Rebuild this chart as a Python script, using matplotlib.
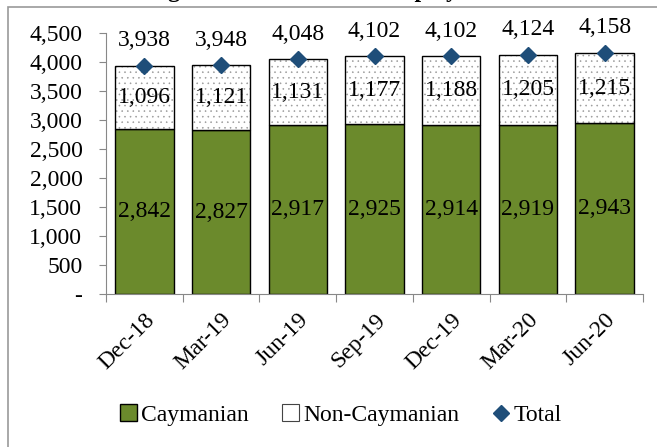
import numpy as np
import matplotlib
matplotlib.use("Agg")
import matplotlib.pyplot as plt
from matplotlib.patches import Rectangle, Patch
from matplotlib.ticker import FuncFormatter

periods = ["Dec-18", "Mar-19", "Jun-19", "Sep-19", "Dec-19", "Mar-20", "Jun-20"]
caymanian = [2842, 2827, 2917, 2925, 2914, 2919, 2943]
non_caymanian = [1096, 1121, 1131, 1177, 1188, 1205, 1215]
total = [3938, 3948, 4048, 4102, 4102, 4124, 4158]

plt.rcParams['font.family'] = ['Liberation Serif', 'DejaVu Serif']
plt.rcParams['hatch.linewidth'] = 0.4

fig = plt.figure(figsize=(6.57, 4.47), dpi=100)
ax = fig.add_axes([106/657, 1 - 294/447, 537/657, (294 - 33)/447])

x = np.arange(len(periods))
w = 0.76
green = '#6b8a2c'
fs = 17
b1 = ax.bar(x, caymanian, w, color=green, edgecolor='black', linewidth=1)
ax.bar(x, non_caymanian, w, bottom=caymanian, color='white', edgecolor='#9a9a9a',
       linewidth=0, hatch='...')
# black outline on top of the hatched segment
ax.bar(x, non_caymanian, w, bottom=caymanian, fill=False, edgecolor='black', linewidth=1)
tl, = ax.plot(x, total, linestyle='none', marker='D', markersize=8, color='#1f4e79')

for i in range(len(periods)):
    ax.text(x[i], caymanian[i] / 2, f"{caymanian[i]:,}", ha='center', va='center', fontsize=fs)
    ax.text(x[i], caymanian[i] + non_caymanian[i] / 2, f"{non_caymanian[i]:,}",
            ha='center', va='center', fontsize=fs)
    ax.text(x[i], total[i] + 250, f"{total[i]:,}", ha='center', va='bottom', fontsize=fs)

ax.set_xlim(-0.5, len(periods) - 0.5)
ax.set_ylim(0, 4500)
ax.set_yticks(np.arange(0, 4501, 500))
ax.yaxis.set_major_formatter(FuncFormatter(lambda v, p: '-' if v == 0 else f"{int(v):,}"))
ax.set_xticks(np.arange(-0.5, len(periods), 1), minor=False)
ax.set_xticklabels([])
ax.set_xticks(x, minor=True)
ax.set_xticklabels(periods, minor=True, rotation=45, ha='right', rotation_mode='anchor', fontsize=fs)
ax.tick_params(axis='x', which='minor', length=0, pad=11)
ax.tick_params(axis='x', which='major', length=6, direction='out', color='#888888')
ax.tick_params(axis='y', length=5, direction='out', color='#888888', labelsize=fs, pad=12)
for s in ['top', 'right']:
    ax.spines[s].set_visible(False)
for s in ['left', 'bottom']:
    ax.spines[s].set_color('#888888')

nc_handle = Patch(facecolor='white', edgecolor='#444444', linewidth=0.8)
fig.legend([b1, nc_handle, tl], ['Caymanian', 'Non-Caymanian', 'Total'], loc='center',
           bbox_to_anchor=(341/657, 1 - 415/447), ncol=3, frameon=False,
           fontsize=fs, handlelength=0.7, handleheight=0.7, handletextpad=0.2, columnspacing=1.4)

fig.patches.append(Rectangle((8/657, -0.1), 1.2, 1 - 7/447 + 0.1, transform=fig.transFigure,
                             fill=False, edgecolor='#999999', linewidth=1.2))
fig.text(0.5, 1 + 3/447, "Figure 3: Civil Service Employment", ha='center', va='baseline',
         fontsize=17, fontweight='bold')

fig.savefig("out.png", dpi=100)
